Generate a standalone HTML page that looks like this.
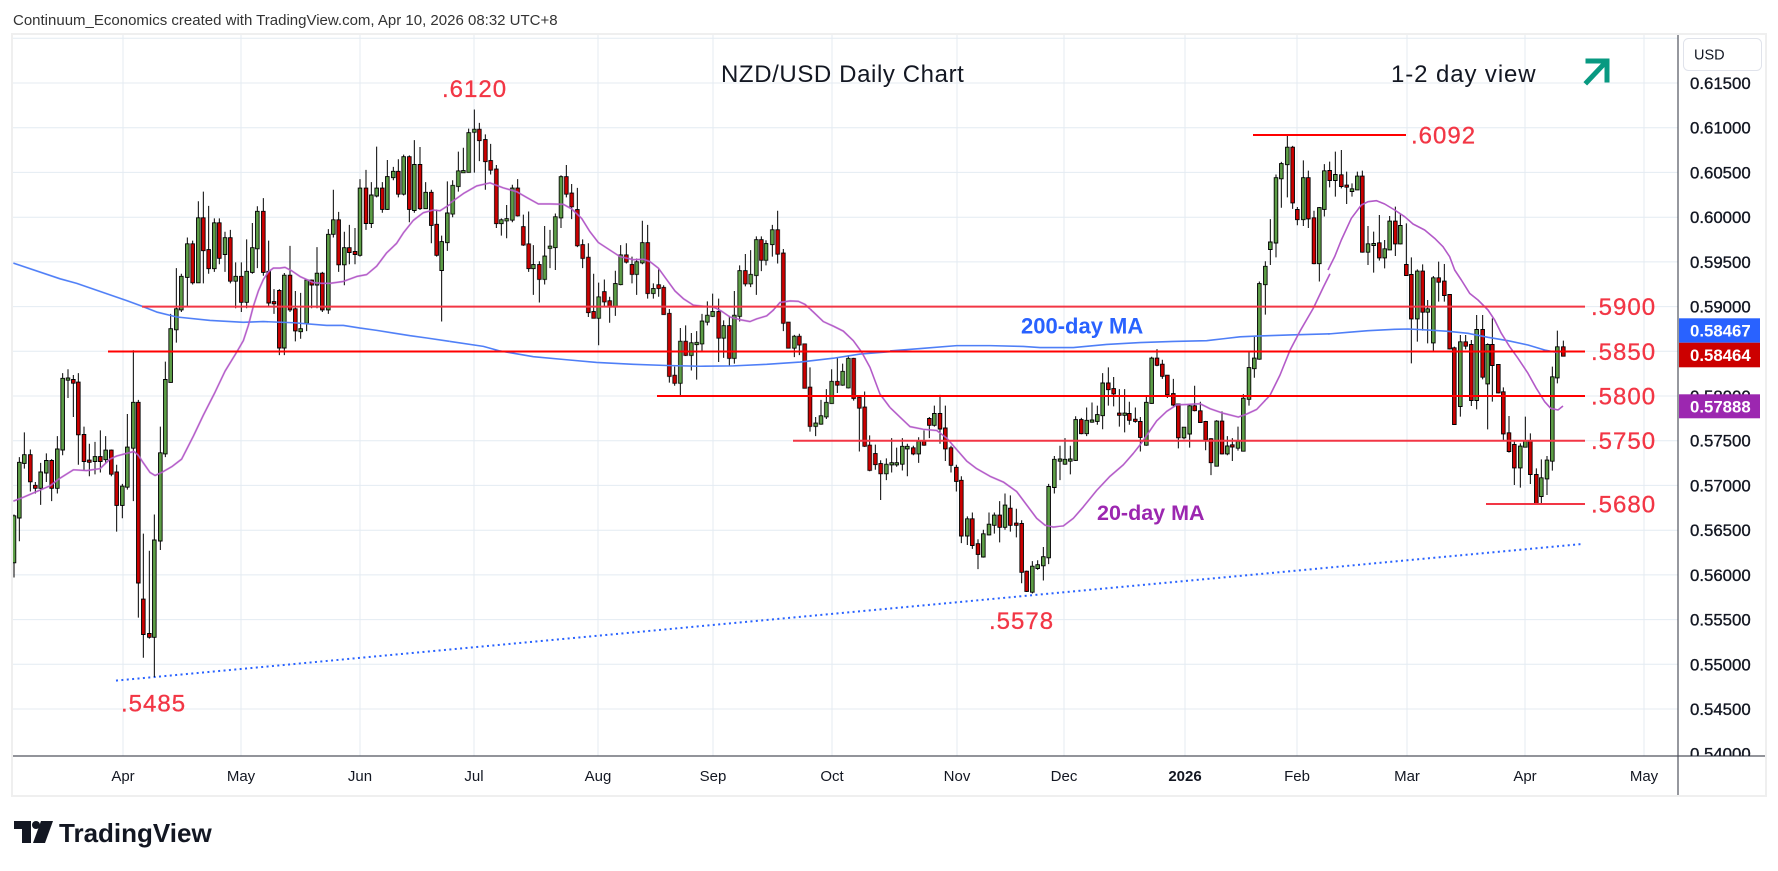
<!DOCTYPE html>
<html><head><meta charset="utf-8"><style>
html,body{margin:0;padding:0;background:#fff;}
svg{display:block;font-family:"Liberation Sans",Arial,sans-serif;}
</style></head><body>
<svg width="1778" height="871" viewBox="0 0 1778 871" xmlns="http://www.w3.org/2000/svg">
<defs>
<clipPath id="cp"><rect x="13" y="35" width="1665" height="721"/></clipPath>
<clipPath id="cpa"><rect x="1679" y="72" width="86" height="684"/></clipPath>
<filter id="ol" x="-2%" y="-2%" width="104%" height="104%">
<feMorphology in="SourceAlpha" operator="dilate" radius="1" result="d"/>
<feFlood flood-color="#000"/>
<feComposite in2="d" operator="in" result="o"/>
<feMerge><feMergeNode in="o"/><feMergeNode in="SourceGraphic"/></feMerge>
</filter>
</defs>
<rect width="1778" height="871" fill="#fff"/>
<text x="13" y="25" font-size="15" fill="#333">Continuum_Economics created with TradingView.com, Apr 10, 2026 08:32 UTC+8</text>
<rect x="12" y="34" width="1754" height="762" fill="none" stroke="#efefef" stroke-width="2"/>
<!-- grid -->
<g stroke="#e4ebf2" stroke-width="1">
<path d="M13 38.3H1678M13 83H1678M13 127.7H1678M13 172.4H1678M13 217.2H1678M13 261.9H1678M13 306.6H1678M13 351.3H1678M13 396H1678M13 440.7H1678M13 485.4H1678M13 530.2H1678M13 574.9H1678M13 619.6H1678M13 664.3H1678M13 709H1678"/>
<path d="M123 35V756M241 35V756M360 35V756M474 35V756M598 35V756M713 35V756M832 35V756M957 35V756M1064 35V756M1185 35V756M1297 35V756M1407 35V756M1525 35V756M1644 35V756"/>
</g>
<g clip-path="url(#cp)">
<line x1="116" y1="680.6" x2="1582" y2="544" stroke="#2962ff" stroke-width="2" stroke-dasharray="2 3.4"/>
<!-- wicks -->
<g stroke="#000" stroke-width="3" fill="none">
<path transform="translate(10,100) scale(0.33333,0.382)" d="M12 1085V1250M28 935V1155M43 870V965M61 915V1025M76 1000V1030M92 950V1060M109 925V1000M125 940V1050M142 880V1030M158 715V930M174 705V780M190 720V830M205 715V955M222 855V970M238 900V985M255 895V980M271 865V975M287 880V950M304 915V985M320 955V1130M337 1005V1095M352 822V1020M370 655V1050M385 785V1355M400 1135V1460M418 1180V1410M433 1085V1510M451 855V1178M466 685V935M482 560V740M499 440V635M514 455V555M532 360V540M548 368V483M565 265V478M580 240V480M596 277V455M613 310V450M628 310V430M645 345V450M661 340V480M677 425V545M694 425V555M710 365V545M727 322V455M742 278V440M760 257V460M776 368V540M792 495V560M808 495V668M823 453V668M840 382V555M856 500V632M872 505V625M890 470V605M905 470V545M921 385V545M937 450V555M955 338V560M970 235V360M986 293V450M1003 345V485M1018 327V430M1035 335V430M1050 207V410M1068 183V340M1084 215V335M1100 122V255M1117 215V295M1132 157V288M1150 175V210M1165 155V255M1181 143V250M1198 145V320M1213 105V295M1230 123V288M1247 215V285M1264 235V375M1280 287V410M1295 355V580M1312 213V395"/>
<path transform="translate(450,100) scale(0.33333,0.382)" d="M8 210V307M25 135V240M40 125V190M56 75V190M73 25V190M88 60V160M106 90V235M122 115V195M139 170V335M154 310V355M170 275V362M187 222V320M203 207V305M220 300V382M236 292V450M250 380V510M268 422V530M284 330V483M300 340V440M316 297V445M333 197V335M349 170V255M365 220V312M382 230V385M398 365V440M415 375V568M431 455V570M446 478V642M463 470V540M479 515V583M496 447V565M512 380V485M529 375V428M546 410V480M560 415V510M577 316V430M593 327V520M610 480V520M626 443V515M641 485V562M658 547V740M674 698V748M691 597V775M707 590V670M724 610V708M740 605V732M756 560V660M772 527V590M788 507V568M806 520V686M821 577V675M838 565V697M853 500V690M869 433V580M886 403V488M902 393V490M919 357V510M934 357V448M948 367V433M967 327V410M983 290V428M1000 390V605M1015 583V650M1033 615V673M1048 612V668M1064 640V753M1080 700V868M1097 830V880M1113 785V850M1129 757V835M1145 705V795M1162 673V767M1178 690V748M1195 668V755M1211 675V787M1228 775V920M1244 763V908M1259 878V972M1276 902V968M1292 943V1047M1309 938V995"/>
<path transform="translate(890,100) scale(0.33333,0.382)" d="M5 885V975M20 910V960M37 885V970M52 900V985M70 905V930M86 883V950M102 865V905M118 830V885M133 800V855M150 772V900M166 800V945M183 905V975M199 955V1025M214 985V1160M232 1090V1165M247 1080V1175M264 1150V1228M280 1125V1198M297 1080V1140M313 1080V1135M329 1050V1158M345 1030V1125M361 1035V1130M379 1070V1145M395 1100V1265M410 1232V1288M427 1207V1292M443 1205V1230M460 1170V1258M476 1005V1215M493 932V1030M510 905V995M525 885V955M541 905V980M557 828V945M574 832V875M590 805V880M606 792V845M622 800V850M638 715V862M655 700V800M671 725V802M688 757V855M704 757V870M718 790V850M736 805V845M751 830V920M769 773V905M785 672V795M801 652V697M817 680V730M832 720V780M850 730V802M865 795V912M882 857V888M899 798V910M914 748V815M931 790V845M947 840V917M963 885V982M980 838V958M996 815V928M1012 880V930M1027 885V945M1044 855V918M1060 770V920M1077 660V800M1093 620V727M1108 475V680M1126 422V562M1141 312V432M1158 195V412M1174 162V282M1192 93V255M1208 120V285M1222 280V328M1240 158V330M1255 185V335M1272 290V430M1288 280V475M1303 168V305"/>
<path transform="translate(1328,100) scale(0.33333,0.33333)" d="M5 185V262M22 155V290M40 150V265M56 215V312M72 250V290M88 215V270M103 212V458M120 378V495M137 395V518M154 345V482M170 420V505M185 348V450M202 320V468M217 340V433M235 370V528M250 472V790M268 508V725M284 493V692M299 600V730M316 528V757M332 485V605M349 492V605M365 583V748M379 740V975M397 705V950M413 705V748M430 720V918M446 645V928M464 645V838M479 730V988M493 655V905M511 795V880M526 862V1022M543 948V1058M559 1025V1155M577 1030V1163M592 950V1040M607 1000V1152M625 1105V1213M640 1078V1210M657 1068V1185M673 800V1112M688 692V850M706 722V767"/>
</g>
<!-- bodies -->
<g filter="url(#ol)">
<g stroke-width="7.5" fill="none">
<g transform="translate(10,100) scale(0.33333,0.382)">
<path stroke="#5d9e46" d="M12 1090V1210M28 950V1093M43 930V950M92 975V1015M109 945V975M142 915V1015M158 730V915M174 729V732M255 935V945M287 918V940M337 1012V1060M352 910V1012M370 793V910M433 1153V1405M451 925V1153M466 733V925M482 600V738M499 548V600M514 463V548M532 378V463M565 310V477M613 323V440M645 362V403M677 463V473M710 450V528M727 388V450M742 293V388M823 460V648M872 600V605M890 473V583M921 455V483M955 353V548M970 315V350M1003 388V430M1050 232V405M1084 250V322M1100 232V250M1132 202V285M1150 188V202M1181 150V245M1213 170V288M1247 243V283M1295 372V445M1312 297V372"/>
<path stroke="#cc0000" d="M61 930V998M76 1010V1015M125 945V1015M190 733V740M205 740V875M222 877V945M238 944V947M271 935V945M304 918V978M320 975V1060M385 793V1263M400 1308V1398M418 1398V1405M548 378V477M580 310V393M596 393V440M628 323V413M661 362V473M694 463V528M760 293V450M776 450V530M792 529V532M808 500V648M840 460V548M856 548V603M905 473V483M937 455V548M986 315V430M1018 388V398M1035 398V403M1068 232V322M1117 232V285M1165 188V245M1198 150V285M1230 170V283M1264 243V327M1280 327V405"/>
</g>
<g transform="translate(450,100) scale(0.33333,0.382)">
<path stroke="#5d9e46" d="M8 225V297M25 187V225M40 186V189M56 87V188M73 78V83M154 315V322M170 312V315M187 232V313M250 432V440M284 410V468M300 384V387M316 307V385M333 202V307M446 517V570M496 482V540M512 407V482M560 425V455M577 375V425M610 495V505M691 633V740M724 637V667M740 636V639M756 580V637M772 565V580M788 555V565M821 592V622M853 565V675M869 448V565M902 458V480M919 367V458M948 377V418M967 341V377M1033 620V648M1097 847V853M1113 828V847M1129 793V828M1145 738V793M1178 712V745M1195 678V752M1309 955V977"/>
<path stroke="#cc0000" d="M88 78V105M106 105V160M122 160V182M139 182V322M203 232V302M220 333V378M236 378V440M268 432V468M349 202V245M365 245V278M382 288V380M398 380V413M415 413V555M431 555V570M463 503V527M479 527V540M529 407V423M546 432V455M593 375V505M626 485V492M641 492V560M658 560V722M674 722V740M707 633V667M806 555V622M838 592V675M886 448V480M934 367V418M983 341V402M1000 402V583M1015 583V648M1048 620V640M1064 640V753M1080 753V853M1162 738V745M1211 678V780M1228 780V805M1244 805V905M1259 905V968M1276 927V953M1292 953V977"/>
</g>
<g transform="translate(890,100) scale(0.33333,0.382)">
<path stroke="#5d9e46" d="M5 951V954M20 951V954M37 908V952M52 908V912M86 895V925M133 822V850M232 1098V1140M280 1137V1195M297 1112V1137M313 1088V1112M345 1062V1117M427 1222V1287M443 1218V1225M460 1197V1218M476 1013V1197M493 942V1013M510 941V944M525 942V952M541 941V944M557 838V942M590 840V872M606 839V842M622 825V840M638 742V825M704 821V824M769 793V902M785 677V793M882 858V883M899 802V873M980 842V957M1012 907V925M1044 895V910M1060 782V918M1077 702V782M1093 677V702M1108 482V677M1126 437V482M1141 373V390M1158 205V373M1174 168V205M1192 125V168M1240 205V312M1288 283V427M1303 187V285"/>
<path stroke="#cc0000" d="M70 912V925M102 895V902M118 835V850M150 822V860M166 860V912M183 912V955M199 963V997M214 997V1140M247 1098V1165M264 1163V1188M329 1088V1117M361 1070V1112M379 1109V1112M395 1110V1235M410 1235V1285M574 838V872M655 742V757M671 757V768M688 821V824M718 822V837M736 837V840M751 843V882M801 677V693M817 693V722M832 722V770M850 770V797M865 797V883M914 802V812M931 815V843M947 843V888M963 888V948M996 842V925M1027 904V907M1208 125V268M1222 288V312M1255 205V310M1272 310V427"/>
</g>
<g transform="translate(1328,100) scale(0.33333,0.33333)">
<path stroke="#5d9e46" d="M22 225V240M72 268V273M88 230V268M120 433V455M137 432V435M170 448V472M185 365V448M217 378V430M268 515V655M299 628V635M316 535V727M397 727V918M446 690V900M479 735V850M577 1040V1102M592 1025V1040M640 1135V1188M657 1082V1135M673 832V1082M688 742V832"/>
<path stroke="#cc0000" d="M5 213V240M40 226V258M56 257V260M103 230V455M154 430V472M202 365V430M235 495V525M250 525V655M284 515V635M332 535V545M349 545V585M365 585V745M379 745V972M413 727V737M430 735V900M464 690V830M493 735V795M511 795V877M526 877V1000M543 1000V1053M559 1035V1102M607 1025V1122M625 1125V1212M706 742V767"/>
</g>
</g>
</g>
<!-- moving averages -->
<g fill="none" stroke-width="1.6" stroke-linejoin="round">
<g stroke="#4f7ff7">
<polyline vector-effect="non-scaling-stroke" transform="translate(10,100) scale(0.33333,0.382)" points="10,427 150,468 200,480 250,495 300,510 350,525 390,538 440,555 500,568 600,577 700,582 760,580 850,583 950,590 1000,590 1050,597 1100,603 1150,610 1200,617 1250,623 1320,632"/>
<polyline vector-effect="non-scaling-stroke" transform="translate(450,100) scale(0.33333,0.382)" points="0,632 100,645 150,657 250,672 350,680 440,687 550,692 650,695 750,697 850,696 950,692 1050,686 1150,676 1230,665 1320,659"/>
<polyline vector-effect="non-scaling-stroke" transform="translate(890,100) scale(0.33333,0.382)" points="0,657 100,650 200,643 300,643 400,645 450,648 550,648 650,640 750,635 850,632 950,630 1000,625 1050,620 1100,618 1200,615 1320,612"/>
<polyline vector-effect="non-scaling-stroke" transform="translate(1328,100) scale(0.33333,0.33333)" points="0,702 60,697 120,692 200,688 240,687 300,690 360,694 420,700 480,712 540,722 600,735 650,750 690,758"/>
</g>
<g stroke="#b35ac8">
<polyline vector-effect="non-scaling-stroke" transform="translate(10,100) scale(0.33333,0.382)" points="10,1050 40,1040 80,1025 120,1010 150,990 190,968 230,970 270,965 300,940 320,932 350,925 372,920 385,930 400,950 420,975 435,983 455,975 485,960 515,940 550,880 580,825 615,765 645,710 680,660 700,630 715,590 730,540 745,500 760,470 775,450 790,440 810,440 825,438 845,447 870,462 890,470 910,478 935,480 960,480 1000,475 1040,462 1070,457 1100,435 1130,400 1160,375 1180,348 1210,315 1240,295 1270,288 1290,290 1320,273"/>
<polyline vector-effect="non-scaling-stroke" transform="translate(450,100) scale(0.33333,0.382)" points="0,270 40,245 80,225 120,217 160,230 200,240 230,255 265,272 300,272 340,273 365,285 395,310 420,345 445,373 480,393 510,410 550,418 580,417 600,423 625,440 650,470 675,500 700,520 730,537 760,540 790,542 815,553 840,568 870,575 900,580 920,573 950,565 970,550 990,530 1020,526 1045,527 1065,535 1090,555 1120,580 1150,592 1180,605 1210,630 1235,660 1260,700 1290,770 1320,805"/>
<polyline vector-effect="non-scaling-stroke" transform="translate(890,100) scale(0.33333,0.382)" points="0,805 30,830 60,855 100,862 140,865 170,885 200,915 230,945 260,965 300,985 340,1000 380,1025 410,1060 440,1095 465,1113 490,1118 520,1115 550,1095 580,1065 620,1022 660,985 700,955 730,925 750,903 770,878 800,840 830,815 860,798 890,797 930,795 960,808 1000,820 1045,830 1070,822 1100,810 1140,773 1170,720 1200,655 1230,605 1270,545 1300,490 1320,455"/>
<polyline vector-effect="non-scaling-stroke" transform="translate(1328,100) scale(0.33333,0.33333)" points="0,510 20,470 40,420 70,355 100,315 120,305 145,302 170,312 200,330 230,350 255,372 290,390 320,415 345,440 365,470 380,510 400,540 425,580 450,600 480,630 500,660 520,700 545,740 570,775 600,820 625,865 650,905 668,925 690,930 705,918"/>
</g>
</g>
<!-- level lines -->
<g stroke-width="2">
<line x1="1253" y1="135" x2="1406" y2="135" stroke="#ff0000"/>
<line x1="142" y1="306.6" x2="1585" y2="306.6" stroke="#f23645"/>
<line x1="108" y1="351.5" x2="1585" y2="351.5" stroke="#ff0000"/>
<line x1="657" y1="396" x2="1585" y2="396" stroke="#ff0000"/>
<line x1="793" y1="440.7" x2="1585" y2="440.7" stroke="#f23645"/>
<line x1="1486" y1="504" x2="1585" y2="504" stroke="#f23645"/>
</g>
</g>
<!-- labels -->
<g font-size="24" fill="#f23645" stroke="#f23645" stroke-width="0.3" letter-spacing="1">
<text x="1411" y="143.5">.6092</text>
<text x="1591" y="315">.5900</text>
<text x="1591" y="360">.5850</text>
<text x="1591" y="404.5">.5800</text>
<text x="1591" y="449">.5750</text>
<text x="1591" y="512.5">.5680</text>
<text x="442" y="97">.6120</text>
<text x="989" y="629">.5578</text>
<text x="121" y="711.5">.5485</text>
</g>
<text x="721" y="82" font-size="24" fill="#131722" letter-spacing="0.6">NZD/USD Daily Chart</text>
<text x="1391" y="82" font-size="24" fill="#131722" letter-spacing="0.9">1-2 day view</text>
<g stroke="#089981" stroke-width="5" fill="none" stroke-linecap="square">
<path d="M1587 82L1604 64"/>
<path d="M1588 61H1607V80"/>
</g>
<text x="1021" y="333.5" font-size="22" font-weight="bold" fill="#2962ff">200-day MA</text>
<text x="1097" y="520" font-size="21.5" font-weight="bold" fill="#9c27b0">20-day MA</text>
<!-- axes -->
<line x1="13" y1="756" x2="1765" y2="756" stroke="#50535e" stroke-width="1.2"/>
<line x1="1678" y1="35" x2="1678" y2="795" stroke="#50535e" stroke-width="1.2"/>
<g clip-path="url(#cpa)" font-size="16.8" fill="#131722" stroke="#131722" stroke-width="0.35">
<text x="1690" y="89">0.61500</text>
<text x="1690" y="133.7">0.61000</text>
<text x="1690" y="178.4">0.60500</text>
<text x="1690" y="223.2">0.60000</text>
<text x="1690" y="267.9">0.59500</text>
<text x="1690" y="312.6">0.59000</text>
<text x="1690" y="402">0.58000</text>
<text x="1690" y="446.7">0.57500</text>
<text x="1690" y="491.4">0.57000</text>
<text x="1690" y="536.2">0.56500</text>
<text x="1690" y="580.9">0.56000</text>
<text x="1690" y="625.6">0.55500</text>
<text x="1690" y="670.3">0.55000</text>
<text x="1690" y="715">0.54500</text>
<text x="1690" y="759.7">0.54000</text>
</g>
<rect x="1683.5" y="38.5" width="78" height="32" rx="5" fill="#fff" stroke="#e0e3eb"/>
<text x="1694" y="59.5" font-size="14.5" fill="#131722">USD</text>
<g font-size="16.8" font-weight="bold" fill="#fff">
<rect x="1679" y="318.3" width="81" height="24.4" fill="#2962ff"/>
<text x="1690" y="336.5">0.58467</text>
<rect x="1679" y="342.7" width="81" height="24.6" fill="#cc0000"/>
<text x="1690" y="361">0.58464</text>
<rect x="1679" y="394.3" width="81" height="24" fill="#9c27b0"/>
<text x="1690" y="412.3">0.57888</text>
</g>
<g font-size="15" fill="#131722" text-anchor="middle">
<text x="123" y="781">Apr</text>
<text x="241" y="781">May</text>
<text x="360" y="781">Jun</text>
<text x="474" y="781">Jul</text>
<text x="598" y="781">Aug</text>
<text x="713" y="781">Sep</text>
<text x="832" y="781">Oct</text>
<text x="957" y="781">Nov</text>
<text x="1064" y="781">Dec</text>
<text x="1185" y="781" font-weight="bold">2026</text>
<text x="1297" y="781">Feb</text>
<text x="1407" y="781">Mar</text>
<text x="1525" y="781">Apr</text>
<text x="1644" y="781">May</text>
</g>
<!-- footer logo -->
<g fill="#131722">
<path d="M14 821H31V843H22V829H14Z"/>
<circle cx="36" cy="825" r="4"/>
<path d="M41 821H53L45 843H33Z"/>
</g>
<text x="59" y="842" font-size="26" font-weight="bold" fill="#131722">TradingView</text>
</svg>
</body></html>
